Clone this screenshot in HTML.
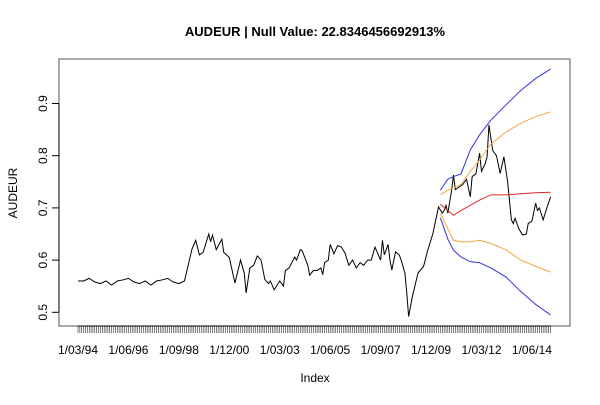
<!DOCTYPE html>
<html><head><meta charset="utf-8"><style>
body{margin:0;background:#fff;}
svg text{font-family:"Liberation Sans",Arial,sans-serif;}
</style></head><body>
<svg id="c" width="600" height="400" xmlns="http://www.w3.org/2000/svg"></svg>
<script>
const flatVals=[0.56,0.56,0.565,0.558,0.555,0.56,0.552,0.56,0.562,0.565,0.558,0.555,0.56,0.552,0.56,0.562,0.565,0.558,0.555,0.56];
const histIdx=[61,63,65,67,70,71,72,74,77,78,81,84,87,89,90,92,94,96,98,100,102,103,105,108,109,110,111,113,116,117,119,120,123,124,126,128,130,131,132,134,135,137,139,141,143,145,147,149,151,153,155,157,159,162,163,164,166,167,168,170,172,173,175,176,177,179,182,185,187,190,193,195,196,197,198,200,201,202,204,206,208,210,211,213,215,216,218,219,220,222,224,226,228,230,232,233,234,236,238,240,241,243,245,246,247,249,251,253];
const histVals=[0.621,0.638,0.61,0.615,0.65,0.635,0.648,0.62,0.64,0.615,0.605,0.556,0.60,0.575,0.537,0.585,0.59,0.608,0.60,0.563,0.555,0.56,0.543,0.56,0.555,0.55,0.58,0.585,0.606,0.60,0.62,0.618,0.59,0.571,0.58,0.58,0.585,0.572,0.595,0.6,0.63,0.612,0.628,0.625,0.613,0.59,0.60,0.585,0.595,0.59,0.60,0.60,0.625,0.60,0.638,0.61,0.63,0.6,0.581,0.616,0.61,0.60,0.575,0.537,0.492,0.53,0.575,0.588,0.616,0.651,0.702,0.69,0.695,0.705,0.69,0.734,0.763,0.735,0.74,0.745,0.755,0.721,0.76,0.765,0.805,0.77,0.785,0.798,0.859,0.81,0.80,0.766,0.798,0.75,0.677,0.67,0.68,0.66,0.648,0.65,0.67,0.675,0.709,0.695,0.70,0.677,0.70,0.721];
const fcIdx=[194,198,201,205,210,215,221,229,237,245,253];
const fcMean=[0.707,0.695,0.686,0.695,0.705,0.715,0.725,0.725,0.727,0.729,0.730];
const fcHi95=[0.734,0.755,0.76,0.765,0.811,0.84,0.868,0.897,0.925,0.948,0.966];
const fcHi80=[0.725,0.734,0.738,0.745,0.77,0.792,0.822,0.845,0.862,0.875,0.884];
const fcLo80=[0.690,0.66,0.638,0.635,0.635,0.638,0.632,0.62,0.60,0.588,0.577];
const fcLo95=[0.681,0.64,0.619,0.606,0.597,0.595,0.585,0.568,0.540,0.515,0.495];
const xLabels=["1/03/94","1/06/96","1/09/98","1/12/00","1/03/03","1/06/05","1/09/07","1/12/09","1/03/12","1/06/14"];
const yTicks=[0.5,0.6,0.7,0.8,0.9];
const nMonths=254;

const svg=document.getElementById('c');
const NS="http://www.w3.org/2000/svg";
const X=m=>78+m*1.868;
const Y=v=>312.3-(v-0.5)*522;
function mk(t,a,p){const e=document.createElementNS(NS,t);for(const k in a)e.setAttribute(k,a[k]);(p||svg).appendChild(e);return e;}

let r=mk('rect',{x:59,y:59,width:511,height:267,fill:'none',stroke:'#555','stroke-width':1});



let t=mk('text',{x:315,y:36,'text-anchor':'middle','font-size':13,'font-weight':'bold'});t.textContent="AUDEUR | Null Value: 22.8346456692913%";


t=mk('text',{x:315,y:382,'text-anchor':'middle','font-size':12});t.textContent="Index";


t=mk('text',{x:17,y:193,'text-anchor':'middle','font-size':12,transform:'rotate(-90 17 193)'});t.textContent="AUDEUR";



// y axis
let ya=mk('g',{});


mk('line',{x1:59,x2:59,y1:Y(0.5),y2:Y(0.9),stroke:'#000'},ya);
yTicks.forEach(v=>{
  mk('line',{x1:52,x2:59,y1:Y(v),y2:Y(v),stroke:'#000'},ya);
  const tt=mk('text',{x:47,y:Y(v),'text-anchor':'middle','font-size':12,transform:`rotate(-90 47 ${Y(v)})`},ya);
  tt.textContent=String(v);
  
  
});
// x axis
let xa=mk('g',{});


mk('line',{x1:X(0),x2:X(nMonths-1),y1:326,y2:326,stroke:'#000'},xa);
let d='';for(let m=0;m<nMonths;m++){d+=`M${X(m).toFixed(2)} 326V333`;}
mk('path',{d:d,stroke:'#000','stroke-width':0.5},xa);
xLabels.forEach((l,i)=>{
  const tt=mk('text',{x:X(i*27),y:354,'text-anchor':'middle','font-size':12},xa);
  tt.textContent=l;
  
  
});

function line(idx,vals,col,name){
  const p=idx.map((m,i)=>(i?'L':'M')+X(m).toFixed(2)+' '+Y(vals[i]).toFixed(2)).join('');
  const e=mk('path',{d:p,fill:'none',stroke:col,'stroke-width':1});
  
  
}
const allIdx=flatVals.map((v,i)=>i*3).concat(histIdx);
const allVals=flatVals.concat(histVals);
line(allIdx,allVals,'#000','audeur-series');
line(fcIdx,fcHi95,'#3333dd','forecast-upper-95');
line(fcIdx,fcLo95,'#3333dd','forecast-lower-95');
line(fcIdx,fcHi80,'#f5a742','forecast-upper-80');
line(fcIdx,fcLo80,'#f5a742','forecast-lower-80');
line(fcIdx,fcMean,'#e02828','forecast-mean');
</script>
</body></html>
